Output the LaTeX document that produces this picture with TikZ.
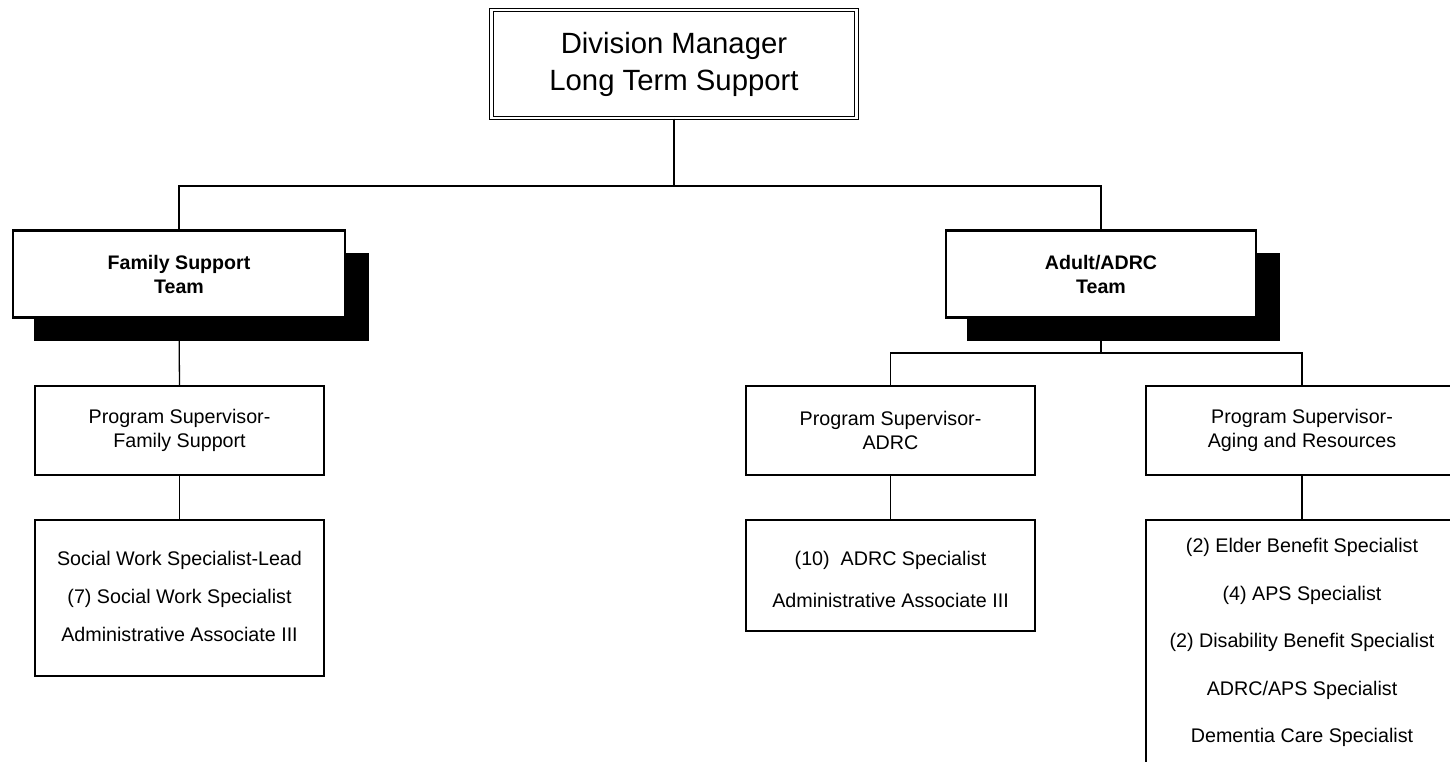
\documentclass[tikz,border=0pt]{standalone}
\usepackage{fontspec}
\setmainfont{Liberation Sans}
\usetikzlibrary{shadows}
\begin{document}
\begin{tikzpicture}[x=1pt,y=-1pt,
  box/.style={draw, line width=1.3pt, rectangle, fill=white, align=center, inner sep=0pt,
    font=\fontsize{19.7}{23.5}\selectfont},
  team/.style={draw, line width=2.6pt, rectangle, fill=white, align=center, inner sep=0pt,
    font=\bfseries\fontsize{19.6}{24}\selectfont,
    drop shadow={shadow xshift=22pt, shadow yshift=-23pt, shadow scale=1.01, fill=black, opacity=1}},
  conn/.style={line width=1.3pt}]
\useasboundingbox (0,0) rectangle (1450,762);
\clip (0,0) rectangle (1450,762);

\coordinate (j1) at (674,186);
\coordinate (j2) at (1101,353);

\node[box, double, double distance=2.6pt, line width=1.1pt, minimum width=365pt, minimum height=108pt,
  font=\fontsize{29.3}{37}\selectfont] (dm) at (674,64) {Division Manager\\Long Term Support};

\node[team, minimum width=332pt, minimum height=87pt] (fst) at (179,274) {Family Support\\Team};
\node[team, minimum width=310pt, minimum height=87pt] (adt) at (1101,274) {Adult/ADRC\\Team};

\node[box, minimum width=289pt, minimum height=89pt] (fsup) at (179.5,430.5) {Program Supervisor-\\Family Support};
\node[box, minimum width=289pt, minimum height=156pt, font=\fontsize{19.7}{38}\selectfont] (flist) at (179.5,598)
  {\raisebox{2pt}[\height][\depth]{\begin{tabular}{@{}c@{}}Social Work Specialist-Lead\\(7) Social Work Specialist\\Administrative Associate III\end{tabular}}};

\node[box, minimum width=289pt, minimum height=89pt] (asup) at (890.5,430.5) {Program Supervisor-\\ADRC};
\node[box, minimum width=289pt, minimum height=111pt, font=\fontsize{19.7}{42}\selectfont] (alist) at (890.5,575.5)
  {\raisebox{-3pt}[\height][\depth]{\begin{tabular}{@{}c@{}}(10)\ \ ADRC Specialist\\Administrative Associate III\end{tabular}}};

\node[box, minimum width=312pt, minimum height=89pt] (gsup) at (1302,430.5) {Program Supervisor-\\Aging and Resources};
\node[box, minimum width=312pt, minimum height=245pt, font=\fontsize{19.7}{47.5}\selectfont] (glist) at (1302,642.5)
  {(2) Elder Benefit Specialist\\(4) APS Specialist\\(2) Disability Benefit Specialist\\ADRC/APS Specialist\\Dementia Care Specialist};

\draw[conn] (dm.south) -- (j1);
\draw[conn] (fst.north) |- (j1) -| (adt.north);
\draw[conn] (fst.south) -- (fsup.north);
\draw[conn] (fsup.south) -- (flist.north);
\draw[conn] (adt.south) -- (j2);
\draw[conn] (asup.north) |- (j2) -| (gsup.north);
\draw[conn] (asup.south) -- (alist.north);
\draw[conn] (gsup.south) -- (glist.north);
\end{tikzpicture}
\end{document}
